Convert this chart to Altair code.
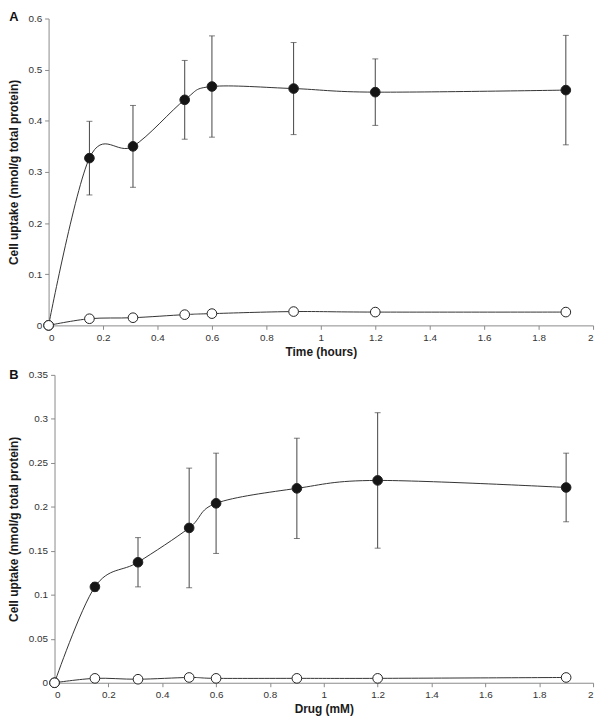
import altair as alt
import pandas as pd

# ---- data ----
x_vals = [0, 0.15, 0.31, 0.5, 0.6, 0.9, 1.2, 1.9]

a_filled = [0, 0.327, 0.350, 0.441, 0.467, 0.463, 0.456, 0.460]
a_filled_err = [0, 0.072, 0.080, 0.077, 0.099, 0.090, 0.065, 0.107]
a_open = [0, 0.013, 0.015, 0.021, 0.023, 0.027, 0.026, 0.026]
a_open_err = [0, 0.002, 0.002, 0.003, 0.007, 0.007, 0.004, 0.004]

b_filled = [0, 0.109, 0.137, 0.176, 0.204, 0.221, 0.230, 0.222]
b_filled_err = [0, 0.005, 0.028, 0.068, 0.057, 0.057, 0.077, 0.039]
b_open = [0, 0.005, 0.004, 0.006, 0.005, 0.005, 0.005, 0.006]
b_open_err = [0, 0.001, 0.001, 0.001, 0.001, 0.001, 0.001, 0.001]

x_ticks = [0, 0.2, 0.4, 0.6, 0.8, 1, 1.2, 1.4, 1.6, 1.8, 2]
a_y_ticks = [0, 0.1, 0.2, 0.3, 0.4, 0.5, 0.6]
b_y_ticks = [0, 0.05, 0.1, 0.15, 0.2, 0.25, 0.3, 0.35]

y_title = "Cell uptake (nmol/g total protein)"
FONT = "Liberation Sans"


def make_df(xs, filled, ferr, opn, oerr):
    rows = []
    for x, y, e in zip(xs, filled, ferr):
        rows.append({"x": x, "y": y, "lo": y - e, "hi": y + e, "series": "filled"})
    for x, y, e in zip(xs, opn, oerr):
        rows.append({"x": x, "y": y, "lo": y - e, "hi": y + e, "series": "open"})
    return pd.DataFrame(rows)


def panel(letter, df, x_title, y_ticks, y_max, width, height, extent, tpad, lx, ly, shift):
    # both panels share the same left origin in a vconcat; panel A's axes are
    # shifted left by `shift` px so that its plot starts further left, as in the figure
    x_axis = alt.Axis(values=x_ticks, format="~g", title=x_title, labelPadding=3,
                      titlePadding=4)
    y_axis = alt.Axis(values=y_ticks, format="~g", title=y_title, minExtent=extent,
                      maxExtent=extent, titlePadding=tpad, labelPadding=3, offset=shift)
    xs = alt.Scale(domain=[0, 2], nice=False, zero=False, range=[-shift, width])
    ys = alt.Scale(domain=[0, y_max], nice=False)
    X = alt.X("x:Q", scale=xs, axis=x_axis)
    base = alt.Chart(df)

    line = base.mark_line(interpolate="cardinal", color="#333333", strokeWidth=1).encode(
        x=X, y=alt.Y("y:Q", scale=ys, axis=y_axis), detail="series:N")
    bars = base.mark_rule(color="#444444", strokeWidth=1).encode(
        x=X, y=alt.Y("lo:Q", scale=ys, axis=y_axis), y2="hi:Q")
    cap_lo = base.mark_tick(orient="horizontal", size=6, thickness=1, color="#444444").encode(
        x=X, y=alt.Y("lo:Q", scale=ys, axis=y_axis))
    cap_hi = base.mark_tick(orient="horizontal", size=6, thickness=1, color="#444444").encode(
        x=X, y=alt.Y("hi:Q", scale=ys, axis=y_axis))
    pts = base.mark_point(filled=True, size=95, opacity=1, strokeWidth=1, shape="circle").encode(
        x=X, y=alt.Y("y:Q", scale=ys, axis=y_axis),
        fill=alt.Fill("series:N", scale=alt.Scale(domain=["filled", "open"],
                                                   range=["#151515", "#ffffff"]), legend=None),
        stroke=alt.value("#222222"))
    lab = alt.Chart(pd.DataFrame({"t": [letter]})).mark_text(
        font=FONT, fontSize=13, fontWeight="bold", color="#111111",
        align="center", baseline="middle").encode(
        text="t:N", x=alt.value(lx), y=alt.value(ly))
    return alt.layer(line, bars, cap_lo, cap_hi, pts, lab).properties(width=width, height=height)


pa = panel("A", make_df(x_vals, a_filled, a_filled_err, a_open, a_open_err),
           "Time (hours)", a_y_ticks, 0.6, 544, 310, 22, 6, -41, -1, 6)
pb = panel("B", make_df(x_vals, b_filled, b_filled_err, b_open, b_open_err),
           "Drug (mM)", b_y_ticks, 0.35, 544, 311, 27, 7, -41, 0, 0)

chart = alt.vconcat(pa, pb, spacing=12).properties(
    padding=0
).configure_view(stroke=None).configure_axis(
    grid=False, domainColor="#8a8a8a", tickColor="#8a8a8a", tickSize=4,
    labelColor="#333333", labelFont=FONT, labelFontSize=10,
    titleFont=FONT, titleFontSize=12, titleFontWeight="bold", titleColor="#1a1a1a"
)

chart.save("out.html", embed_options={"renderer": "svg", "actions": False})
